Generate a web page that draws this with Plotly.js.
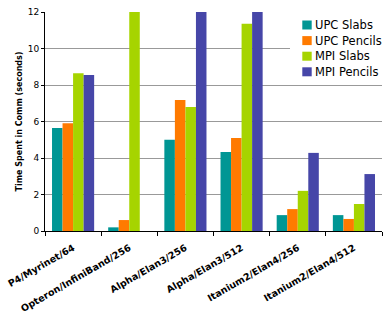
<!DOCTYPE html>
<html>
<head>
<meta charset="utf-8">
<script src="https://cdn.plot.ly/plotly-3.0.1.min.js"></script>
<style>html,body{margin:0;padding:0;background:#fff;}</style>
</head>
<body>
<div id="chart" style="width:383px;height:313px;"></div>
<script>
var categories = ["P4/Myrinet/64", "Opteron/InfiniBand/256", "Alpha/Elan3/256", "Alpha/Elan3/512", "Itanium2/Elan4/256", "Itanium2/Elan4/512"];
var upcSlabs   = [5.65, 0.2, 5.0, 4.33, 0.87, 0.87];
var upcPencils = [5.9, 0.6, 7.18, 5.1, 1.2, 0.66];
var mpiSlabs   = [8.65, 14.0, 6.8, 11.35, 2.2, 1.48];
var mpiPencils = [8.55, null, 15.0, 18.0, 4.28, 3.12];
var seriesNames = ["UPC Slabs", "UPC Pencils", "MPI Slabs", "MPI Pencils"];
var yTicks = [0, 2, 4, 6, 8, 10, 12];

var colors = ["#009694", "#FF7A00", "#A6D400", "#4646A8"];
var series = [upcSlabs, upcPencils, mpiSlabs, mpiPencils];
var data = series.map(function(vals, i) {
  return {
    type: "bar",
    x: categories,
    y: vals,
    name: seriesNames[i],
    marker: {color: colors[i], line: {width: 0}},
    hoverinfo: "none",
    showlegend: false
  };
});

// plot area in pixels (for the hand-drawn legend box)
var W = 383, H = 313, ML = 45, MR = 1, MT = 12, MB = 82;
var PW = W - ML - MR, PH = H - MT - MB;
function px(x) { return (x - ML) / PW; }
function py(y) { return 1 - (y - MT) / PH; }

var shapes = [{
  type: "rect", xref: "paper", yref: "paper", layer: "above",
  x0: px(290), x1: px(383), y0: py(83), y1: py(14),
  fillcolor: "#ffffff", line: {width: 0}
}];
var annotations = [];
var rowY0 = 25, rowStep = 15.6;
seriesNames.forEach(function(name, i) {
  var cy = rowY0 + i * rowStep;
  shapes.push({
    type: "rect", xref: "paper", yref: "paper", layer: "above",
    x0: px(302.3), x1: px(311.7), y0: py(cy + 4.5), y1: py(cy - 4.5),
    fillcolor: colors[i], line: {width: 0}
  });
  annotations.push({
    xref: "paper", yref: "paper", x: px(313.5), y: py(cy),
    xanchor: "left", yanchor: "middle", showarrow: false,
    text: name, borderpad: 0,
    font: {size: 11.5, family: "DejaVu Sans, Verdana, sans-serif", color: "#000"}
  });
});

var layout = {
  width: W,
  height: H,
  margin: {l: ML, r: MR, t: MT, b: MB, pad: 0},
  paper_bgcolor: "#ffffff",
  plot_bgcolor: "#ffffff",
  barmode: "group",
  bargap: 0.25,
  bargroupgap: 0,
  font: {family: "DejaVu Sans, Verdana, sans-serif", color: "#000"},
  showlegend: false,
  shapes: shapes,
  annotations: annotations,
  xaxis: {
    type: "category",
    tickangle: -30,
    tickfont: {size: 9.5, family: "DejaVu Sans, Verdana, sans-serif", weight: "bold", color: "#000"},
    ticklabelstandoff: 7,
    showline: true,
    linecolor: "#000",
    linewidth: 1,
    ticks: "outside",
    tickson: "boundaries",
    ticklen: 4,
    tickcolor: "#000",
    showgrid: false,
    zeroline: false
  },
  yaxis: {
    range: [0, 12],
    tickvals: yTicks,
    ticktext: yTicks.map(String),
    tickfont: {size: 9, family: "DejaVu Sans, Verdana, sans-serif", color: "#000"},
    showline: true,
    linecolor: "#000",
    linewidth: 1,
    ticks: "outside",
    ticklen: 3,
    tickcolor: "#000",
    showgrid: true,
    gridcolor: "#999999",
    gridwidth: 1,
    zeroline: false,
    title: {
      text: "Time Spent in Comm (seconds)",
      font: {size: 8, family: "DejaVu Sans, Verdana, sans-serif", weight: "bold", color: "#000"},
      standoff: 3
    }
  }
};

Plotly.newPlot("chart", data, layout, {displayModeBar: false, staticPlot: true});
</script>
</body>
</html>
